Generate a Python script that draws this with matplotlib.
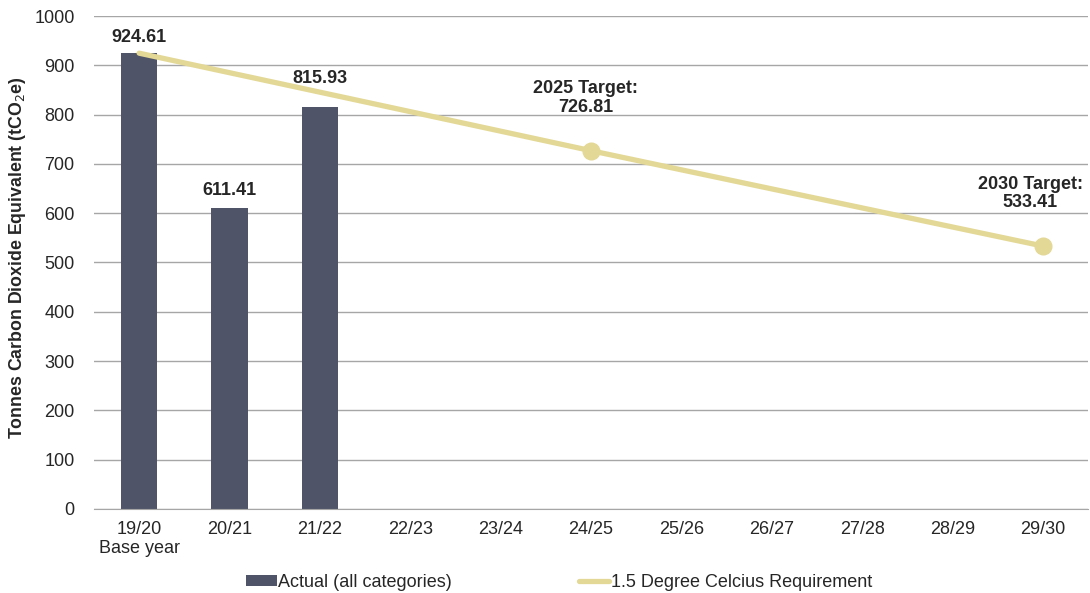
import matplotlib.pyplot as plt
import numpy as np

plt.rcParams['font.family'] = ['Liberation Sans', 'DejaVu Sans']

years = ['19/20\nBase year', '20/21', '21/22', '22/23', '23/24', '24/25',
         '25/26', '26/27', '27/28', '28/29', '29/30']
actual = [924.61, 611.41, 815.93]
requirement = [924.61, 885.0, 845.5, 806.0, 766.4, 726.81,
               688.0, 649.3, 610.7, 572.0, 533.41]
target_idx = [5, 10]
target_text = ['2025 Target:\n726.81', '2030 Target:\n533.41']

bar_col = '#4f5468'
line_col = '#e3d896'
txt_col = '#262626'

fig = plt.figure(figsize=(10.9, 5.93), dpi=100)
ax = fig.add_axes([0.0862, 0.1417, 0.912, 0.8313])

x = np.arange(len(years))
bars = ax.bar(x[:len(actual)], actual, width=0.4, color=bar_col,
              label='Actual (all categories)', zorder=2)
line, = ax.plot(x, requirement, color=line_col, lw=3.8, solid_capstyle='round',
                label='1.5 Degree Celcius Requirement', zorder=3)
ax.plot(x[target_idx], [requirement[i] for i in target_idx], 'o',
        color=line_col, ms=12, zorder=4)

# label offsets (points) - the 21/22 one is lifted clear of the line
bar_off = [5, 6, 14]
for i, v in enumerate(actual):
    ax.annotate(f'{v:.2f}', (x[i], v), xytext=(0, bar_off[i]), textcoords='offset points',
                ha='center', va='bottom', fontsize=13, fontweight='bold',
                color=txt_col)
tgt_dx = [-4, -9]
for i, t, dx in zip(target_idx, target_text, tgt_dx):
    ax.annotate(t, (x[i], requirement[i]), xytext=(dx, 25), textcoords='offset points',
                ha='center', va='bottom', fontsize=13, fontweight='bold',
                color=txt_col, linespacing=1.12)

ax.set_xlim(-0.5, len(years) - 0.5)
ax.set_ylim(0, 1000)
ax.set_yticks(np.arange(0, 1001, 100))
ax.set_xticks(x)
ax.set_xticklabels(years, fontsize=13, color=txt_col, linespacing=1.1)
ax.tick_params(axis='y', labelsize=13, labelcolor=txt_col, length=0, pad=14)
ax.tick_params(axis='x', length=0, pad=9)
ax.grid(axis='y', color='#a6a6a6', lw=1, zorder=0)
for s in ['left', 'right', 'top']:
    ax.spines[s].set_visible(False)
ax.spines['bottom'].set_color('#a6a6a6')
ax.set_ylabel('Tonnes Carbon Dioxide Equivalent (tCO$_2$e)', fontsize=12.8,
              fontweight='bold', color=txt_col)
ax.yaxis.set_label_coords(-0.066, 0.51)

leg = ax.legend([bars, line], ['Actual (all categories)', '1.5 Degree Celcius Requirement'],
                loc='upper center', bbox_to_anchor=(0.468, -0.098), ncol=2,
                frameon=False, fontsize=13, columnspacing=7.0,
                handlelength=1.7, handletextpad=0.1, handleheight=0.55)
for t in leg.get_texts():
    t.set_color(txt_col)

fig.savefig('out.png', dpi=100)
